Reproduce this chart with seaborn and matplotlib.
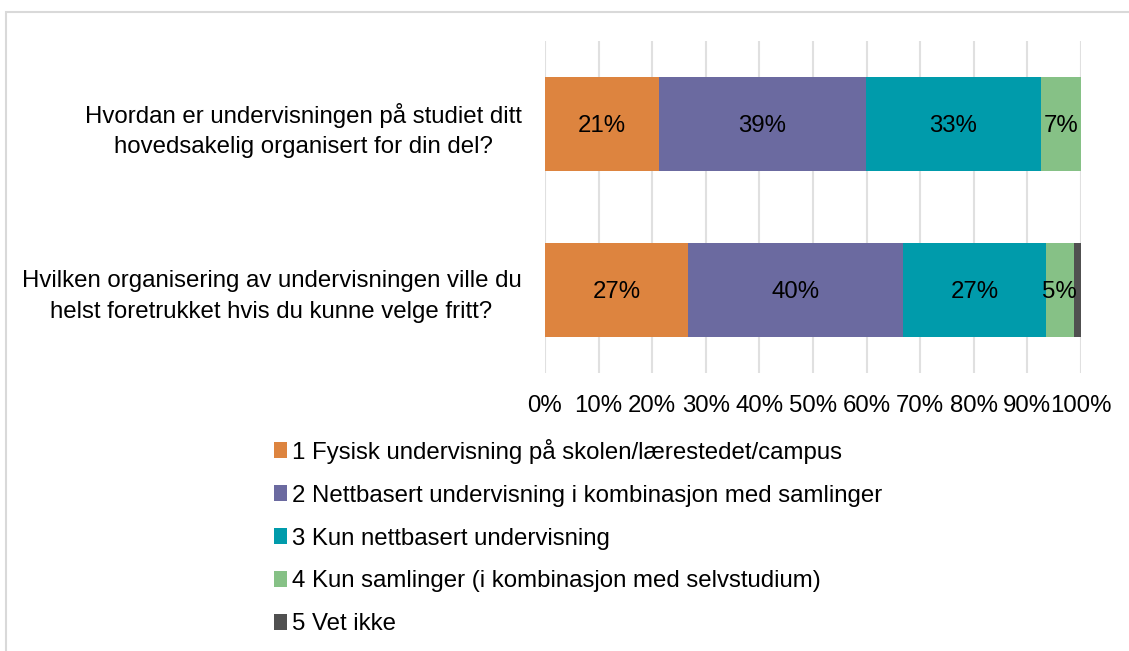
import numpy as np
import pandas as pd
import matplotlib
matplotlib.use('Agg')
import matplotlib.pyplot as plt
from matplotlib.patches import Patch, Rectangle
import seaborn as sns

sns.set_style('white')
plt.rcParams['font.family'] = ['Liberation Sans', 'DejaVu Sans']
plt.rcParams['text.color'] = 'black'

questions = ['Hvordan er undervisningen på studiet ditt\nhovedsakelig organisert for din del?',
             'Hvilken organisering av undervisningen ville du\nhelst foretrukket hvis du kunne velge fritt?']
answers = ['1 Fysisk undervisning på skolen/lærestedet/campus',
           '2 Nettbasert undervisning i kombinasjon med samlinger',
           '3 Kun nettbasert undervisning',
           '4 Kun samlinger (i kombinasjon med selvstudium)',
           '5 Vet ikke']
fysisk = [21.2, 26.7]
nett_samlinger = [38.6, 40.1]
kun_nett = [32.8, 26.6]
kun_samlinger = [7.4, 5.3]
vet_ikke = [0.0, 1.3]
colors = ['#DD843F', '#6B6AA0', '#009BAB', '#86C186', '#505050']
xticks = [0, 10, 20, 30, 40, 50, 60, 70, 80, 90, 100]

series = [fysisk, nett_samlinger, kun_nett, kun_samlinger, vet_ikke]
df = pd.DataFrame(dict(zip(answers, series)), index=questions)
cum = df.cumsum(axis=1)

fs = 17.3
fig = plt.figure(figsize=(11.29, 6.51), dpi=100)
ax = fig.add_axes([545/1129, 1-373/651, (1081-545)/1129, (373-41)/651])

# stacked bars: draw cumulative totals from the right-most segment down
for i in range(len(answers) - 1, -1, -1):
    d = pd.DataFrame({'q': questions, 'v': cum.iloc[:, i].values})
    sns.barplot(data=d, y='q', x='v', color=colors[i], width=0.57,
                saturation=1, linewidth=0, orient='h', ax=ax, zorder=3)

# segment labels
for j, q in enumerate(questions):
    for i, a in enumerate(answers[:4]):
        val = df.loc[q, a]
        if val < 3:
            continue
        center = cum.loc[q, a] - val / 2
        ax.text(center, j + 0.015, f'{round(val)}%', ha='center', va='center',
                fontsize=fs, color='black', zorder=4)

ax.set_xlim(0, 100)
ax.set_ylim(1.5, -0.5)
ax.set_xticks(xticks)
ax.set_xticklabels([f'{t}%' for t in xticks])
ax.set_xlabel('')
ax.set_ylabel('')
ax.grid(axis='x', color='#E0E0E0', linewidth=1.5, zorder=0)
ax.grid(axis='y', visible=False)
ax.set_axisbelow(True)
for s in ax.spines.values():
    s.set_visible(False)
ax.tick_params(axis='x', length=0, pad=15.5, labelsize=fs, colors='black')
ax.tick_params(axis='y', length=0, pad=17, labelsize=fs, colors='black')
for lab in ax.get_yticklabels():
    lab.set_multialignment('center')
    lab.set_linespacing(1.5)

handles = [Patch(facecolor=c, edgecolor='none') for c in colors]
fig.legend(handles, answers, loc='center left', bbox_to_anchor=(274/1129, 1-537/651),
           frameon=False, fontsize=fs, handlelength=0.55, handleheight=0.62,
           handletextpad=0.2, labelspacing=0.87, borderpad=0, borderaxespad=0,
           labelcolor='black')

# outer chart border
fig.patches.append(Rectangle((6/1129, -0.5), 2, 0.5 + 1 - 12/651, transform=fig.transFigure,
                             fill=False, edgecolor='#D9D9D9', linewidth=1.5))

fig.savefig('out.png', dpi=100)
